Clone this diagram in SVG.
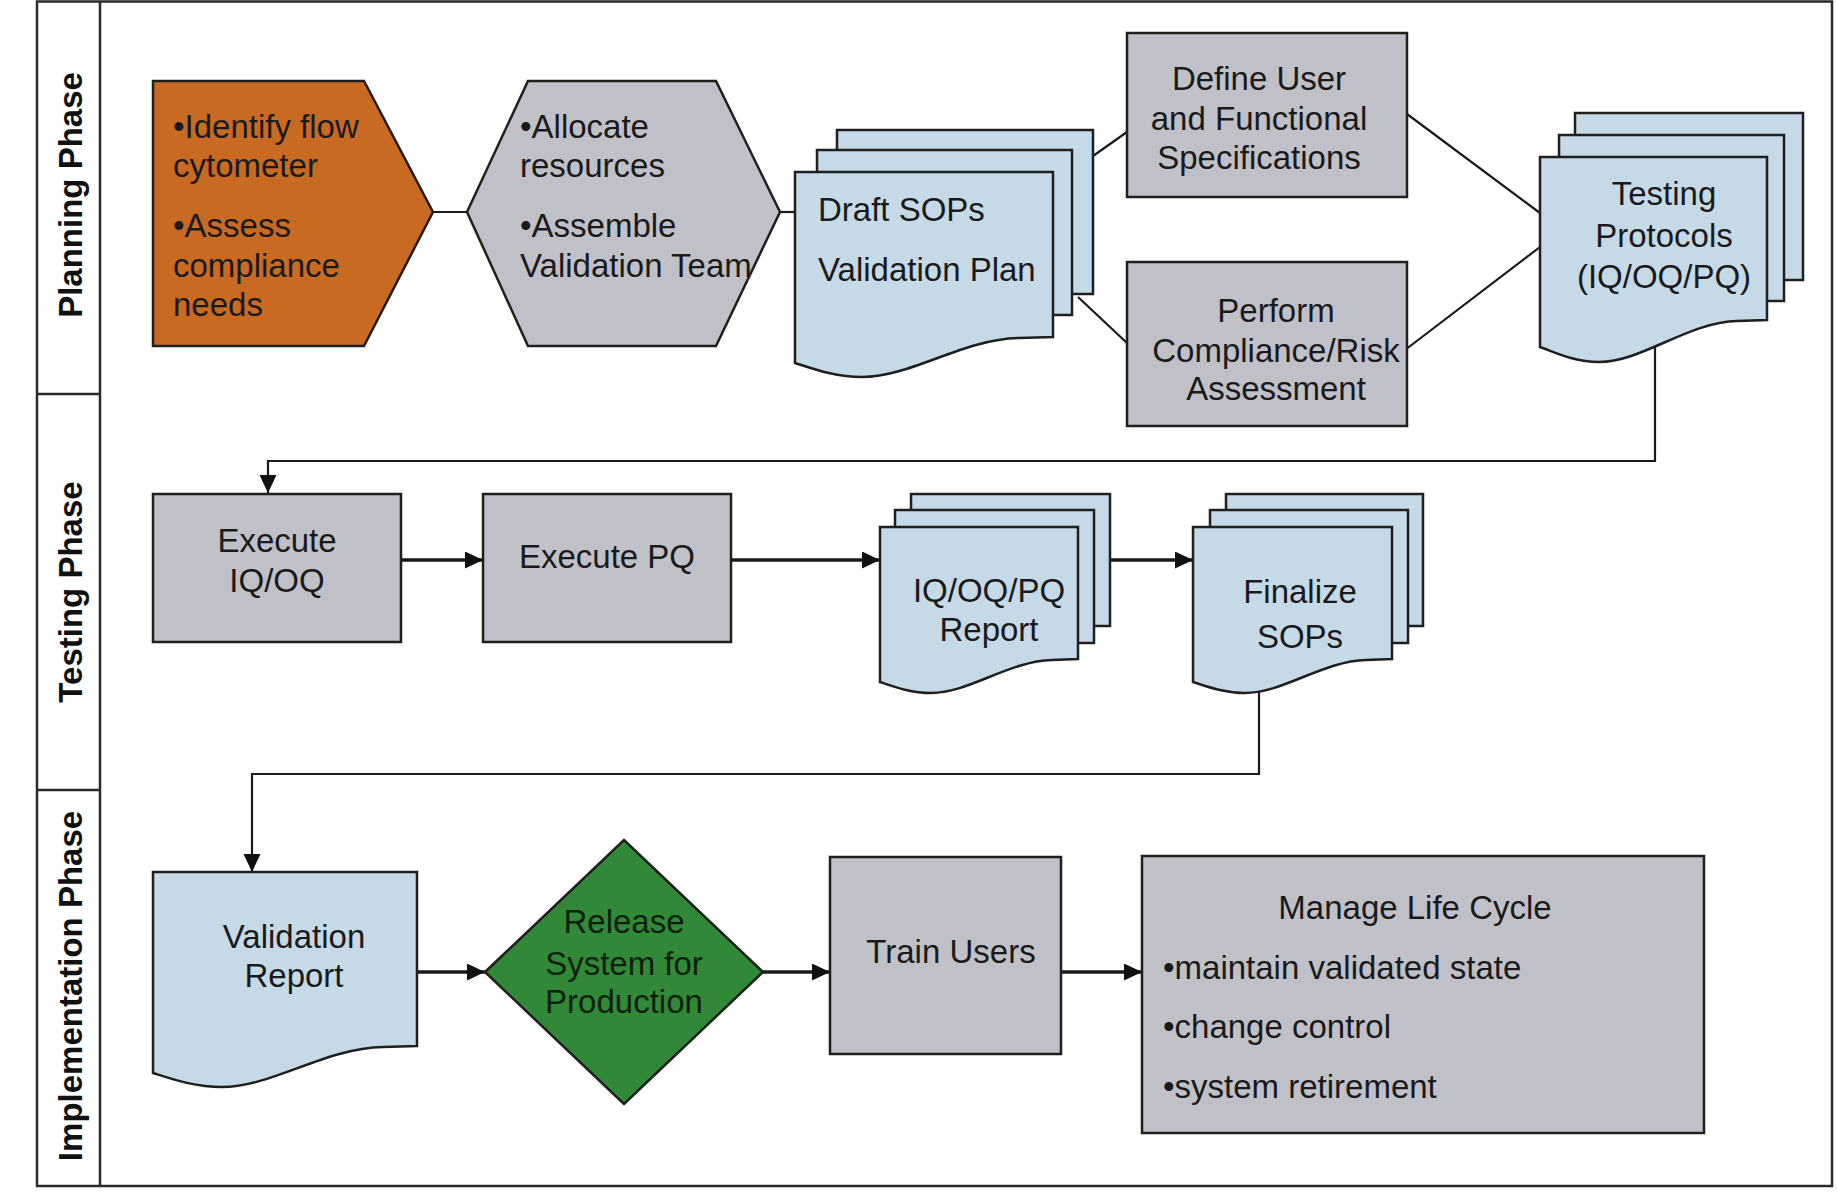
<svg xmlns="http://www.w3.org/2000/svg" width="1837" height="1192" viewBox="0 0 1837 1192">
<style>
  .frame{fill:none;stroke:#2a2a2a;stroke-width:2.5}
  .gray{fill:#BFC0C8;stroke:#1f1f1f;stroke-width:2.5}
  .blue{fill:#C5D9E7;stroke:#1f1f1f;stroke-width:2.5}
  .orange{fill:#C86A22;stroke:#1f1f1f;stroke-width:2.5}
  .green{fill:#318836;stroke:#1f1f1f;stroke-width:2.5}
  .t{font-family:"Liberation Sans",Arial,sans-serif;font-size:33px;fill:#1a1a1a}
  .c{text-anchor:middle}
  .lane{font-family:"Liberation Sans",Arial,sans-serif;font-size:33px;font-weight:bold;fill:#111;text-anchor:middle}
  .ln{fill:none;stroke:#1a1a1a;stroke-width:2.2}
  .ar{fill:none;stroke:#1a1a1a;stroke-width:3.4}
</style>
<defs>
  <marker id="ah" markerUnits="userSpaceOnUse" markerWidth="19" markerHeight="18" refX="18" refY="8.5" orient="auto">
    <path d="M0,0 L18,8.5 L0,17 Z" fill="#111"/>
  </marker>
</defs>
<rect width="1837" height="1192" fill="#fff"/>

<g id="frame">
  <rect class="frame" x="37" y="1.5" width="1795" height="1184.5"/>
  <line class="frame" x1="100" y1="1.5" x2="100" y2="1186"/>
  <line class="frame" x1="37" y1="394" x2="100" y2="394"/>
  <line class="frame" x1="37" y1="790" x2="100" y2="790"/>
  <text class="lane" transform="translate(82,195) rotate(-90)">Planning Phase</text>
  <text class="lane" transform="translate(82,592) rotate(-90)">Testing Phase</text>
  <text class="lane" transform="translate(82,986) rotate(-90)">Implementation Phase</text>
</g>

<g id="connectors">
  <line class="ln" x1="433" y1="212" x2="467" y2="212"/>
  <line class="ln" x1="780" y1="212" x2="795" y2="212"/>
  <line class="ln" x1="1093" y1="156" x2="1127" y2="132"/>
  <line class="ln" x1="1078" y1="297" x2="1127" y2="343"/>
  <line class="ln" x1="1407" y1="114" x2="1540" y2="213"/>
  <line class="ln" x1="1405" y1="350" x2="1540" y2="247"/>
  <polyline class="ln" points="1655,345 1655,461 268,461 268,493" marker-end="url(#ah)"/>
  <line class="ar" x1="401" y1="560" x2="483" y2="560" marker-end="url(#ah)"/>
  <line class="ar" x1="731" y1="560" x2="880" y2="560" marker-end="url(#ah)"/>
  <line class="ar" x1="1110" y1="560" x2="1193" y2="560" marker-end="url(#ah)"/>
  <polyline class="ln" points="1259,691 1259,774 252,774 252,872" marker-end="url(#ah)"/>
  <line class="ar" x1="417" y1="972" x2="485" y2="972" marker-end="url(#ah)"/>
  <line class="ar" x1="763" y1="972" x2="830" y2="972" marker-end="url(#ah)"/>
  <line class="ar" x1="1061" y1="972" x2="1142" y2="972" marker-end="url(#ah)"/>
</g>

<g id="identify">
  <polygon class="orange" points="153,81 364,81 433,212 364,346 153,346"/>
  <text class="t" x="173" y="138">•Identify flow</text>
  <text class="t" x="173" y="177">cytometer</text>
  <text class="t" x="173" y="237">•Assess</text>
  <text class="t" x="173" y="277">compliance</text>
  <text class="t" x="173" y="316">needs</text>
</g>

<g id="allocate">
  <polygon class="gray" points="467,212 528,81 716,81 780,212 716,346 528,346"/>
  <text class="t" x="520" y="138">•Allocate</text>
  <text class="t" x="520" y="177">resources</text>
  <text class="t" x="520" y="237">•Assemble</text>
  <text class="t" x="520" y="277">Validation Team</text>
</g>

<g id="draft">
  <rect class="blue" x="837" y="130" width="256" height="164"/>
  <rect class="blue" x="817" y="150" width="255" height="165"/>
  <path class="blue" d="M795,172 H1053 V337 L1019,338 C963,339 911,377 862,377 C834,377 811,368 795,363 Z"/>
  <text class="t" x="818" y="221">Draft SOPs</text>
  <text class="t" x="818" y="281">Validation Plan</text>
</g>

<g id="define">
  <rect class="gray" x="1127" y="33" width="280" height="164"/>
  <text class="t c" x="1259" y="90">Define User</text>
  <text class="t c" x="1259" y="130">and Functional</text>
  <text class="t c" x="1259" y="169">Specifications</text>
</g>

<g id="perform">
  <rect class="gray" x="1127" y="262" width="280" height="164"/>
  <text class="t c" x="1276" y="322">Perform</text>
  <text class="t c" x="1276" y="362">Compliance/Risk</text>
  <text class="t c" x="1276" y="400">Assessment</text>
</g>

<g id="testing">
  <rect class="blue" x="1575" y="113" width="228" height="167"/>
  <rect class="blue" x="1559" y="135" width="225" height="166"/>
  <path class="blue" d="M1540,157 H1767 V320 L1737,321 C1688,322 1642,362 1599,362 C1574,362 1554,352 1540,347 Z"/>
  <text class="t c" x="1664" y="205">Testing</text>
  <text class="t c" x="1664" y="247">Protocols</text>
  <text class="t c" x="1664" y="288">(IQ/OQ/PQ)</text>
</g>

<g id="exec-iqoq">
  <rect class="gray" x="153" y="494" width="248" height="148"/>
  <text class="t c" x="277" y="552">Execute</text>
  <text class="t c" x="277" y="592">IQ/OQ</text>
</g>

<g id="exec-pq">
  <rect class="gray" x="483" y="494" width="248" height="148"/>
  <text class="t c" x="607" y="568">Execute PQ</text>
</g>

<g id="report">
  <rect class="blue" x="911" y="494" width="199" height="132"/>
  <rect class="blue" x="895" y="510" width="199" height="133"/>
  <path class="blue" d="M880,527 H1078 V659 L1052,660 C1009,661 969,693 931,693 C910,693 892,686 880,682 Z"/>
  <text class="t c" x="989" y="602">IQ/OQ/PQ</text>
  <text class="t c" x="989" y="641">Report</text>
</g>

<g id="finalize">
  <rect class="blue" x="1226" y="494" width="197" height="132"/>
  <rect class="blue" x="1210" y="510" width="198" height="133"/>
  <path class="blue" d="M1193,527 H1392 V659 L1366,660 C1323,661 1283,693 1245,693 C1224,693 1206,686 1193,682 Z"/>
  <text class="t c" x="1300" y="603">Finalize</text>
  <text class="t c" x="1300" y="648">SOPs</text>
</g>

<g id="validation-report">
  <path class="blue" d="M153,872 H417 V1046 L383,1047 C325,1048 272,1087 222,1087 C193,1087 169,1078 153,1073 Z"/>
  <text class="t c" x="294" y="948">Validation</text>
  <text class="t c" x="294" y="987">Report</text>
</g>

<g id="release">
  <polygon class="green" points="485,972 624,840 763,972 624,1104"/>
  <text class="t c" x="624" y="933" style="fill:#0f1f0f">Release</text>
  <text class="t c" x="624" y="975" style="fill:#0f1f0f">System for</text>
  <text class="t c" x="624" y="1013" style="fill:#0f1f0f">Production</text>
</g>

<g id="train">
  <rect class="gray" x="830" y="857" width="231" height="197"/>
  <text class="t c" x="951" y="963">Train Users</text>
</g>

<g id="manage">
  <rect class="gray" x="1142" y="856" width="562" height="277"/>
  <text class="t c" x="1415" y="919">Manage Life Cycle</text>
  <text class="t" x="1163" y="979">•maintain validated state</text>
  <text class="t" x="1163" y="1038">•change control</text>
  <text class="t" x="1163" y="1098">•system retirement</text>
</g>
</svg>
